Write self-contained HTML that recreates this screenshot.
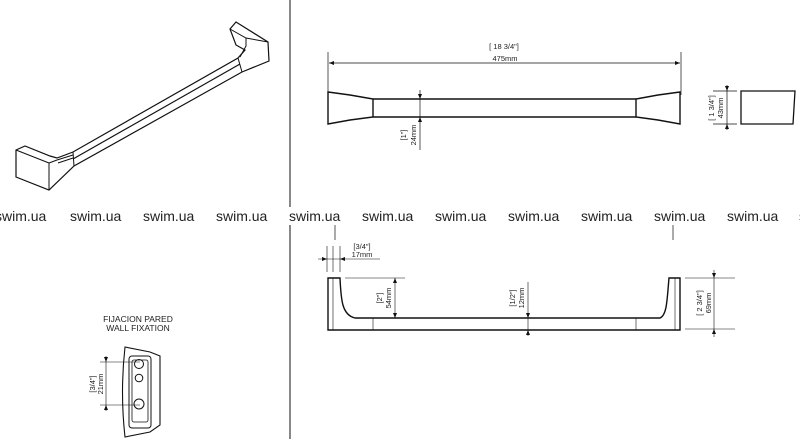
<!DOCTYPE html>
<html><head><meta charset="utf-8"><style>
html,body{margin:0;padding:0;background:#fff}
svg{display:block}
text{font-family:"Liberation Sans",sans-serif;fill:#222}
.w{font-size:14px;fill:#4a4a4a}
.s{font-size:7.5px}
</style></head><body>
<svg width="800" height="439" viewBox="0 0 800 439" xmlns="http://www.w3.org/2000/svg">
<g fill="none" stroke="#111" stroke-width="1">
<line x1="290" y1="0" x2="290" y2="439" stroke-width="1"/>
<!-- iso view -->
<path d="M16,150 L25,146 L50,156 L57,158 L73,152 L238,58 L245,50 L236,45 L230,29 L236,22 L268,42 L269,61 L242,72 L74,166 L49,190 L16,177 Z" stroke-width="1.2"/>
<path d="M16,150 L49,163 L49,190"/>
<path d="M49,163 L57,160 L73,155"/>
<path d="M230,29 L246,38 L268,42"/>
<path d="M246,38 L246,46 L240,57"/>
<path d="M73,152 L74,166 M238,58 L242,72"/>
<path d="M73,159 L240,64" stroke-width="1.2"/>
<path d="M58,163 L73,158"/>
<!-- top view -->
<path d="M328,92 L350,95 L373,99 L373,117 L350,120 L328,124 Z" stroke-width="1.4"/>
<path d="M680,92 L658,95 L636,99 L636,117 L658,120 L680,124 Z" stroke-width="1.4"/>
<path d="M373,99 L636,99 M373,117 L636,117" stroke-width="1.4"/>
<path d="M328,52 L328,95 M681,52 L681,95 M329,63 L680,63" stroke-width="0.7"/>
<path d="M420,90 L420,150" stroke-width="0.7"/>
<path d="M713,91 L737,91 M713,124 L737,124 M727,85 L727,130" stroke-width="0.7"/>
<path d="M741,91 L795,91 L793,124 L741,124 Z" stroke-width="1.3"/>
<!-- front view -->
<path d="M328,278 L340,278 C341,300 342,315 355,318 L660,318 C667,315 667,300 669,278 L680,278 L680,330 L328,330 Z" stroke-width="1.4"/>
<path d="M333,278 L333,330 M675,278 L675,330" stroke-width="0.6"/>
<path d="M373,318 L373,330 M636,318 L636,330" stroke-width="0.6"/>
<path d="M335,225 L335,240 M673,225 L673,240" stroke-width="0.7"/>
<path d="M327,246 L327,272 M333,246 L333,272 M340,246 L340,272 M318,259 L380,259" stroke-width="0.6"/>
<path d="M345,278 L405,278 M395,278 L395,318" stroke-width="0.6"/>
<path d="M528,282 L528,336" stroke-width="0.6"/>
<path d="M685,278 L735,278 M685,329 L735,329 M714,270 L714,337" stroke-width="0.6"/>
<!-- fixation -->
<path d="M125,347 L150,352 L160,356 L160,425 L150,432 L125,437 Q120,392 125,347 Z" stroke-width="1.1"/>
<rect x="129" y="356" width="22" height="72" rx="3" stroke-width="1"/>
<rect x="132" y="360" width="16" height="62" rx="2" stroke-width="0.8"/>
<circle cx="139" cy="364" r="4.5"/><circle cx="139" cy="378" r="3.8"/><circle cx="139" cy="404" r="5"/>
<path d="M100,362 L140,362 M100,405 L140,405 M106,356 L106,411" stroke-width="0.6"/>
</g>
<g fill="#111">
<path d="M329,63 l5,-2 v4z M680,63 l-5,-2 v4z M420,99 l-2,-5 h4z M420,117 l-2,5 h4z M727,91 l-2,-5 h4z M727,124 l-2,5 h4z"/>
<path d="M327,259 l-5,-2 v4z M340,259 l5,-2 v4z M395,278 l-2,5 h4z M395,318 l-2,-5 h4z M528,318 l-2,-5 h4z M528,330 l-2,5 h4z M714,278 l-2,-5 h4z M714,329 l-2,5 h4z M106,362 l-2,-5 h4z M106,405 l-2,5 h4z"/>
</g>
<text class="s" x="504" y="49" text-anchor="middle">[ 18 3/4"]</text>
<text class="s" x="505" y="61" text-anchor="middle">475mm</text>
<text class="s" transform="translate(406,135) rotate(-90)" text-anchor="middle">[1"]</text>
<text class="s" transform="translate(416,135) rotate(-90)" text-anchor="middle">24mm</text>
<text class="s" transform="translate(714,108) rotate(-90)" text-anchor="middle">[ 1 3/4"]</text>
<text class="s" transform="translate(723,108) rotate(-90)" text-anchor="middle">43mm</text>
<text class="s" x="362" y="249" text-anchor="middle">[3/4"]</text>
<text class="s" x="362" y="257" text-anchor="middle">17mm</text>
<text class="s" transform="translate(382,298) rotate(-90)" text-anchor="middle">[2"]</text>
<text class="s" transform="translate(391,298) rotate(-90)" text-anchor="middle">54mm</text>
<text class="s" transform="translate(515,298) rotate(-90)" text-anchor="middle">[1/2"]</text>
<text class="s" transform="translate(524,298) rotate(-90)" text-anchor="middle">12mm</text>
<text class="s" transform="translate(702,303) rotate(-90)" text-anchor="middle">[ 2 3/4"]</text>
<text class="s" transform="translate(711,303) rotate(-90)" text-anchor="middle">69mm</text>
<text class="s" transform="translate(95,384) rotate(-90)" text-anchor="middle">[3/4"]</text>
<text class="s" transform="translate(103,384) rotate(-90)" text-anchor="middle">21mm</text>
<text x="138" y="322" text-anchor="middle" style="font-size:8.5px">FIJACION PARED</text>
<text x="138" y="331" text-anchor="middle" style="font-size:8.5px">WALL FIXATION</text>
<rect x="0" y="207" width="800" height="18" fill="#fff"/>
<g class="w">
<text x="-5" y="221">swim.ua</text><text x="70" y="221">swim.ua</text><text x="143" y="221">swim.ua</text><text x="216" y="221">swim.ua</text><text x="289" y="221">swim.ua</text><text x="362" y="221">swim.ua</text><text x="435" y="221">swim.ua</text><text x="508" y="221">swim.ua</text><text x="581" y="221">swim.ua</text><text x="654" y="221">swim.ua</text><text x="727" y="221">swim.ua</text><text x="799" y="221">s</text>
</g>
</svg>
</body></html>
